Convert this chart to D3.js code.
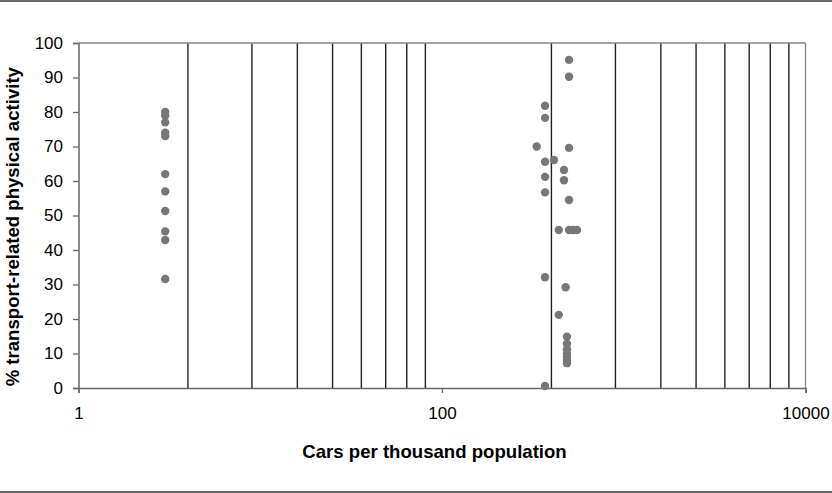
<!DOCTYPE html>
<html lang="en">
<head>
    <meta charset="UTF-8">
    <title>Cars vs transport-related physical activity</title>
    <style>
        body { margin: 0; background: #fff; }
        text { font-family: Arial, "Liberation Sans", sans-serif; }
    </style>
</head>
<body>
    <div id="chart"></div>

    <script src="https://d3js.org/d3.v7.min.js"></script>
    <script>
        // Data (cars per thousand, % active)
        const carsPerThousand = [
            3, 3, 3, 3, 3, 3, 3, 3, 3, 3, 3,
            500, 500, 369, 369, 332, 500, 369, 413, 469, 469, 369, 369, 500,
            439, 500, 526, 553, 369, 479, 439,
            487, 487, 487, 487, 487, 487, 487, 369
        ];
        const pctActive = [
            80, 79, 77, 74, 73, 62, 57, 51.3, 45.4, 42.9, 31.6,
            95.1, 90.2, 81.8, 78.3, 70, 69.6, 65.6, 66.1, 63.2, 60.2, 61.2, 56.7, 54.5,
            45.8, 45.8, 45.8, 45.8, 32.1, 29.2, 21.2,
            14.9, 12.8, 11.2, 10, 9, 8, 7.2, 0.6
        ];
        const xTickValues = [1, 100, 10000];
        const yTickValues = [0, 10, 20, 30, 40, 50, 60, 70, 80, 90, 100];
        // vertical gridlines as Excel draws them on a base-100 log axis
        const gridValues = [4, 9, 16, 25, 36, 49, 64, 81, 400, 900, 1600, 2500, 3600, 4900, 6400, 8100];

        const width = 832, height = 493;
        const margin = { top: 43, right: 26.5, bottom: 105, left: 78.5 };
        const innerW = width - margin.left - margin.right;
        const innerH = height - margin.top - margin.bottom;

        const svg = d3.select("#chart")
            .append("svg")
            .attr("width", width)
            .attr("height", height);

        // outer rules
        svg.append("line").attr("x1", 0).attr("x2", width).attr("y1", 1).attr("y2", 1)
            .attr("stroke", "#666").attr("stroke-width", 2);
        svg.append("line").attr("x1", 0).attr("x2", width).attr("y1", 492).attr("y2", 492)
            .attr("stroke", "#666").attr("stroke-width", 2);

        const g = svg.append("g")
            .attr("transform", `translate(${margin.left},${margin.top})`);

        const x = d3.scaleLog().domain([1, 10000]).range([0, innerW]);
        const y = d3.scaleLinear().domain([0, 100]).range([innerH, 0]);

        // gridlines
        g.selectAll(".grid")
            .data(gridValues)
            .enter()
            .append("line")
            .attr("class", "grid")
            .attr("x1", d => x(d)).attr("x2", d => x(d))
            .attr("y1", 0).attr("y2", innerH)
            .attr("stroke", "#222")
            .attr("stroke-width", 1.4);

        // plot frame top/right
        g.append("line").attr("x1", 0).attr("x2", innerW).attr("y1", 0).attr("y2", 0)
            .attr("stroke", "#888").attr("stroke-width", 1.3);
        g.append("line").attr("x1", innerW).attr("x2", innerW).attr("y1", 0).attr("y2", innerH)
            .attr("stroke", "#888").attr("stroke-width", 1.3);

        // axes
        const yAxis = g.append("g")
            .call(d3.axisLeft(y).tickValues(yTickValues).tickSize(5.5).tickPadding(10));
        const xAxis = g.append("g")
            .attr("transform", `translate(0,${innerH})`)
            .call(d3.axisBottom(x).tickValues(xTickValues).tickFormat(d3.format("d")).tickSize(5).tickPadding(14));

        [xAxis, yAxis].forEach(a => {
            a.select(".domain").attr("stroke", "#666").attr("stroke-width", 1.5);
            a.selectAll(".tick line").attr("stroke", "#666").attr("stroke-width", 1.3);
            a.selectAll(".tick text")
                .attr("fill", "#000")
                .style("font-family", "Arial, 'Liberation Sans', sans-serif")
                .style("font-size", "17px");
        });

        // points
        g.selectAll(".dot")
            .data(carsPerThousand.map((c, i) => ({ c: c, p: pctActive[i] })))
            .enter()
            .append("circle")
            .attr("class", "dot")
            .attr("cx", d => x(d.c))
            .attr("cy", d => y(d.p))
            .attr("r", 4.2)
            .attr("fill", "#777");

        // axis titles
        svg.append("text")
            .attr("x", 434.5)
            .attr("y", 458)
            .attr("text-anchor", "middle")
            .style("font-size", "18.6px")
            .style("font-weight", "bold")
            .text("Cars per thousand population");

        svg.append("text")
            .attr("transform", "translate(19,226.7) rotate(-90)")
            .attr("text-anchor", "middle")
            .style("font-size", "18.6px")
            .style("font-weight", "bold")
            .text("% transport-related physical activity");
    </script>
</body>
</html>
